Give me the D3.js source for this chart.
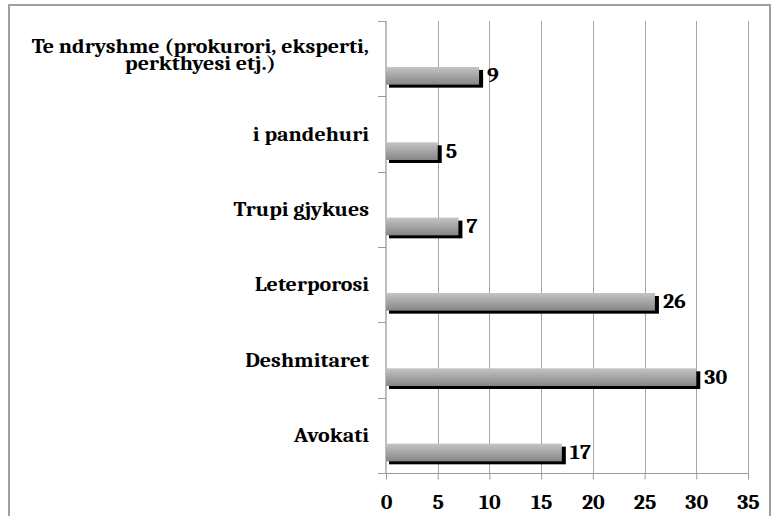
<!DOCTYPE html>
<html>
<head>
<meta charset="utf-8">
<script src="https://cdn.jsdelivr.net/npm/d3@7"></script>
<style>
	body { margin:0; background:#fff; }
	text { font-family: Cambria, Caladea, 'DejaVu Serif', serif; font-weight:bold; fill:#000; }
</style>
</head>
<body>
<div id="chart"></div>
<script>
//Data (top to bottom as drawn)
var categories = ['Te ndryshme (prokurori, eksperti,\nperkthyesi etj.)', 'i pandehuri', 'Trupi gjykues', 'Leterporosi', 'Deshmitaret', 'Avokati'];
var values = [9, 5, 7, 26, 30, 17];
var ticks = [0, 5, 10, 15, 20, 25, 30, 35];

var w = 771, h = 516;
var plotLeft = 386, plotRight = 748, plotTop = 21, plotBottom = 473;
var fs = 20, sx = 1.1; //text is a bit wider than tall in the picture

var svg = d3.select('div#chart').append('svg')
			.attr('width', w)
			.attr('height', h);

//frame
svg.append('path')
	.attr('d', 'M9,' + h + 'V5H770V' + h)
	.attr('fill', 'none')
	.attr('stroke', '#a0a0a0')
	.attr('stroke-width', 2);

var x = d3.scaleLinear().domain([0, 35]).range([plotLeft, plotRight]);
var y = d3.scaleBand().domain(categories).range([plotTop, plotBottom]).padding(0);

//gradient for bars
var grad = svg.append('defs').append('linearGradient')
				.attr('id', 'barGrad')
				.attr('x1', 0).attr('y1', 0).attr('x2', 0).attr('y2', 1);
grad.append('stop').attr('offset', '0%').attr('stop-color', '#c4c4c4');
grad.append('stop').attr('offset', '100%').attr('stop-color', '#868686');

//grid lines
svg.append('g')
	.selectAll('line')
	.data(ticks.slice(1))
	.enter()
	.append('line')
	.attr('x1', function(d){ return Math.round(x(d)) + 0.5; })
	.attr('x2', function(d){ return Math.round(x(d)) + 0.5; })
	.attr('y1', plotTop)
	.attr('y2', plotBottom)
	.attr('stroke', '#a6a6a6')
	.attr('stroke-width', 1);

//bottom axis
var xAxis = svg.append('g')
				.attr('transform', 'translate(0,' + (plotBottom + 0.5) + ')')
				.call(d3.axisBottom(x).tickValues(ticks).tickSize(6));
xAxis.attr('font-family', null).attr('font-size', null);
xAxis.select('.domain').attr('stroke', '#9a9a9a').attr('d', 'M' + (plotLeft - 8) + ',0H' + (plotRight + 0.5));
xAxis.selectAll('.tick line').attr('stroke', '#9a9a9a');
xAxis.selectAll('.tick text')
	.attr('y', 35.5)
	.attr('dy', null)
	.attr('transform', 'scale(' + sx + ',1)')
	.style('font-size', fs + 'px')
	.attr('fill', '#000');

//left axis
var bounds = y.domain().map(function(d){ return y(d); }).concat([plotBottom]);
svg.append('line')
	.attr('x1', plotLeft).attr('x2', plotLeft)
	.attr('y1', plotTop).attr('y2', plotBottom)
	.attr('stroke', '#bdbdbd')
	.attr('stroke-width', 2);
svg.append('g')
	.selectAll('line')
	.data(bounds)
	.enter()
	.append('line')
	.attr('x1', plotLeft - 8)
	.attr('x2', plotLeft)
	.attr('y1', function(d){ return Math.round(d) + 0.5; })
	.attr('y2', function(d){ return Math.round(d) + 0.5; })
	.attr('stroke', '#9a9a9a');

//bars: black shadow then gradient bar
var bh = y.bandwidth();
var barTop = function(i){ return y(categories[i]) + bh * 0.61; };
var barH = bh * 0.235;
var bars = svg.append('g').selectAll('g').data(values).enter().append('g');

bars.append('rect')
	.attr('x', x(0) + 3)
	.attr('y', function(d, i){ return barTop(i) + 3; })
	.attr('width', function(d){ return x(d) - x(0) + 1; })
	.attr('height', barH)
	.attr('fill', '#000');

bars.append('rect')
	.attr('x', x(0))
	.attr('y', function(d, i){ return barTop(i); })
	.attr('width', function(d){ return x(d) - x(0); })
	.attr('height', barH)
	.attr('fill', 'url(#barGrad)');

//value labels
bars.append('text')
	.attr('transform', function(d, i){
		return 'translate(' + (x(d) + 8) + ',' + (barTop(i) + barH / 2 + 6.5) + ') scale(' + sx + ',1)';
	})
	.style('font-size', fs + 'px')
	.text(function(d){ return d; });

//category labels, multi line ones centered within a right aligned block
var labelRight = 369;
var lh = 17;
categories.forEach(function(c, i){
	var lines = c.split('\n');
	var base = y(c) + bh / 2 + 6.5 - (lines.length - 1) * 12;
	var g = svg.append('g');
	var texts = g.selectAll('text').data(lines).enter()
				.append('text')
				.attr('text-anchor', 'middle')
				.style('font-size', fs + 'px')
				.text(function(d){ return d; });
	var maxW = d3.max(texts.nodes(), function(n){ return n.getComputedTextLength(); });
	texts.attr('transform', function(d, j){
		return 'translate(' + (labelRight - maxW * sx / 2) + ',' + (base + j * lh) + ') scale(' + sx + ',1)';
	});
});
</script>
</body>
</html>
